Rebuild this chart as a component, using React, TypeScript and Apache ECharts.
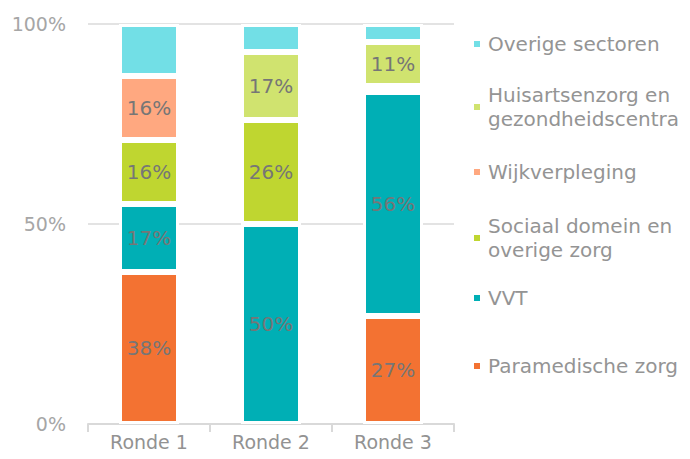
import React, { useEffect, useRef } from "react";
import * as echarts from "echarts";

const categories = ["Ronde 1", "Ronde 2", "Ronde 3"];
const paramedischeZorg = [38, 0, 27];
const vvt = [17, 50, 56];
const sociaalDomein = [16, 26, 1.5];
const wijkverpleging = [16, 0, 0];
const huisartsenzorg = [0, 17, 11];
const overigeSectoren = [13, 7, 4.5];
const yTicks = [0, 50, 100];

const FONT = "'DejaVu Sans', sans-serif";

const seriesDefs = [
  { name: "Paramedische zorg", data: paramedischeZorg, color: "#F37232", label: true, legendTop: 354, lines: 1 },
  { name: "VVT", data: vvt, color: "#00AFB5", label: true, legendTop: 286, lines: 1 },
  { name: "Sociaal domein en\noverige zorg", data: sociaalDomein, color: "#BFD630", label: true, legendTop: 202, lines: 2 },
  { name: "Wijkverpleging", data: wijkverpleging, color: "#FFA880", label: true, legendTop: 160, lines: 1 },
  { name: "Huisartsenzorg en\ngezondheidscentra", data: huisartsenzorg, color: "#D0E36F", label: true, legendTop: 71, lines: 2 },
  { name: "Overige sectoren", data: overigeSectoren, color: "#72DFE6", label: false, legendTop: 32, lines: 1 },
];

export default function App() {
  const ref = useRef<HTMLDivElement>(null);
  useEffect(() => {
    if (!ref.current) return;
    const chart = echarts.init(ref.current, undefined, { renderer: "svg" });
    chart.setOption({
      animation: false,
      textStyle: { fontFamily: FONT },
      grid: { left: 88, right: 236, top: 24, bottom: 35 },
      xAxis: {
        type: "category",
        data: categories,
        axisLine: { lineStyle: { color: "#D9D9D9", width: 2 } },
        axisTick: { show: true, length: 8, lineStyle: { color: "#D9D9D9", width: 2 } },
        axisLabel: { color: "#929292", fontSize: 19, margin: 8, fontFamily: FONT },
      },
      yAxis: {
        type: "value",
        min: yTicks[0],
        max: yTicks[yTicks.length - 1],
        interval: 50,
        axisLabel: { formatter: "{value}%", color: "#A6A6A6", fontSize: 19, margin: 22, fontFamily: FONT },
        splitLine: { lineStyle: { color: "#E3E3E3", width: 2 } },
        axisLine: { show: false },
        axisTick: { show: false },
      },
      legend: seriesDefs.map((s) => ({
        data: [s.name],
        orient: "vertical",
        left: 472,
        top: s.legendTop,
        padding: 0,
        icon: "rect",
        itemWidth: 8,
        itemHeight: 8,
        itemGap: 0,
        selectedMode: false,
        textStyle: {
          color: "#949494",
          fontSize: 20,
          lineHeight: 24,
          fontFamily: FONT,
          padding: s.lines === 2 ? [24, 0, 0, 2] : [0, 0, 0, 2],
        },
      })),
      series: seriesDefs.map((s) => ({
        name: s.name,
        type: "bar",
        stack: "total",
        barWidth: 60,
        data: s.data.map((v) => (v === 0 ? null : v)),
        itemStyle: { color: s.color, borderColor: "#FFFFFF", borderWidth: 3 },
        label: {
          show: s.label,
          position: "inside",
          color: "#767676",
          fontSize: 20,
          fontFamily: FONT,
          formatter: (p: any) => (p.value >= 5 ? Math.round(p.value) + "%" : ""),
        },
      })),
    });
    return () => chart.dispose();
  }, []);
  return <div ref={ref} style={{ width: 690, height: 459, position: "absolute", left: 0, top: 0 }} />;
}
